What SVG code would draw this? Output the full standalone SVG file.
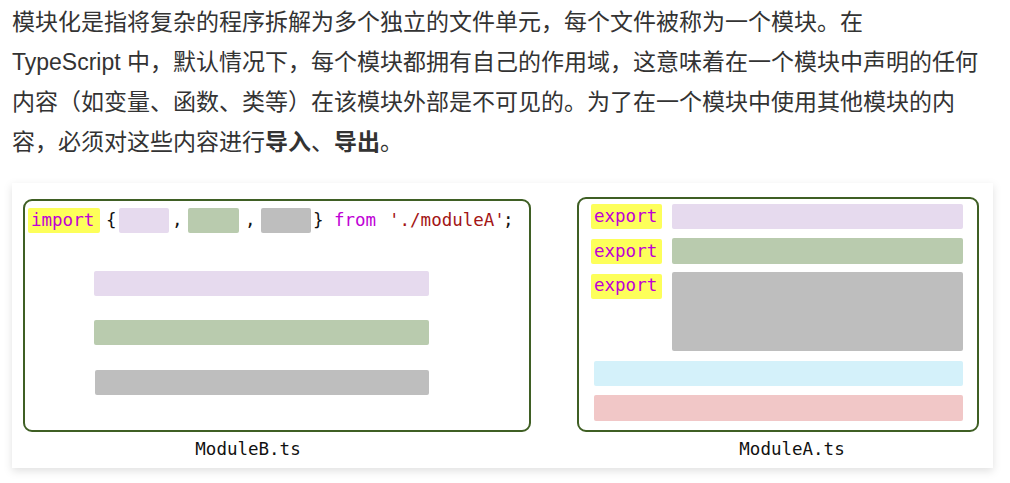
<svg xmlns="http://www.w3.org/2000/svg" width="1010" height="483" viewBox="0 0 1010 483">
<defs>
<filter id="shadow" x="-5%" y="-10%" width="110%" height="125%">
<feDropShadow dx="0" dy="3" stdDeviation="4" flood-color="#000" flood-opacity="0.12"/>
</filter>
<style>
.para{font-family:"Liberation Sans","Noto Sans CJK SC",sans-serif;font-size:23px;fill:#333333}
.b{font-weight:bold}
.mono{font-family:"DejaVu Sans Mono","Liberation Mono",monospace;font-size:17.5px}
.kw{fill:#c000d6}
.str{fill:#a31515}
.pl{fill:#111111}
.hl{fill:#fdff5a}
.box{fill:#ffffff;stroke:#3f5f24;stroke-width:2}
.lav{fill:#e6daee}
.grn{fill:#b9cbae}
.gry{fill:#bebebe}
.blu{fill:#d4f1fa}
.pnk{fill:#f1c7c7}
.lbl{fill:#111111;text-anchor:middle}
</style>
</defs>
<rect width="1010" height="483" fill="#ffffff"/>
<g id="paragraph" class="para">
<text x="12" y="30">模块化是指将复杂的程序拆解为多个独立的文件单元，每个文件被称为一个模块。在</text>
<text x="12" y="70">TypeScript 中，默认情况下，每个模块都拥有自己的作用域，这意味着在一个模块中声明的任何</text>
<text x="12" y="110">内容（如变量、函数、类等）在该模块外部是不可见的。为了在一个模块中使用其他模块的内</text>
<text x="12" y="150">容，必须对这些内容进行<tspan class="b">导入</tspan>、<tspan class="b">导出</tspan>。</text>
</g>
<rect id="card" x="12" y="183" width="981" height="285" fill="#ffffff" filter="url(#shadow)"/>
<g id="moduleB">
<rect class="box" x="24" y="200" width="506" height="231" rx="8"/>
<rect class="hl" x="28" y="208" width="72" height="25" rx="2"/>
<text class="mono kw" x="31" y="226">import</text>
<text class="mono pl" x="106" y="226">{</text>
<rect class="lav" x="119" y="208" width="50" height="25" rx="2"/>
<text class="mono pl" x="172" y="226">,</text>
<rect class="grn" x="188" y="208" width="51" height="25" rx="2"/>
<text class="mono pl" x="245" y="226">,</text>
<rect class="gry" x="261" y="208" width="50" height="25" rx="2"/>
<text class="mono pl" x="313" y="226">}</text>
<text class="mono kw" x="334" y="226">from</text>
<text class="mono str" x="389" y="226">'./moduleA'</text>
<text class="mono pl" x="503" y="226">;</text>
<rect class="lav" x="94" y="271" width="335" height="25" rx="2"/>
<rect class="grn" x="94" y="320" width="335" height="25" rx="2"/>
<rect class="gry" x="95" y="370" width="334" height="25" rx="2"/>
<text class="mono lbl" x="248" y="455">ModuleB.ts</text>
</g>
<g id="moduleA">
<rect class="box" x="578" y="198" width="400" height="233" rx="8"/>
<rect class="hl" x="591" y="204" width="71" height="25" rx="2"/>
<text class="mono kw" x="594" y="222">export</text>
<rect class="lav" x="672" y="204" width="291" height="25" rx="2"/>
<rect class="hl" x="591" y="239" width="71" height="25" rx="2"/>
<text class="mono kw" x="594" y="257">export</text>
<rect class="grn" x="672" y="238" width="291" height="26" rx="2"/>
<rect class="hl" x="591" y="274" width="71" height="25" rx="2"/>
<text class="mono kw" x="594" y="291">export</text>
<rect class="gry" x="672" y="272" width="291" height="79" rx="2"/>
<rect class="blu" x="594" y="361" width="369" height="25" rx="2"/>
<rect class="pnk" x="594" y="395" width="369" height="26" rx="2"/>
<text class="mono lbl" x="792" y="455">ModuleA.ts</text>
</g>
<g id="connectors"/>
</svg>
